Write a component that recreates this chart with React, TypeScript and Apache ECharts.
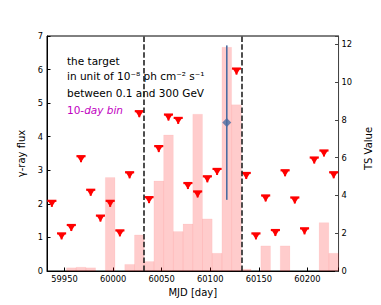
import React, { useEffect, useRef } from "react";
import * as echarts from "echarts";

// 10-day bin centres (MJD)
const binCenters = [
  59937, 59947, 59957, 59967, 59977, 59987, 59997, 60007, 60017, 60027,
  60037, 60047, 60057, 60067, 60077, 60087, 60097, 60107, 60117, 60127,
  60137, 60147, 60157, 60167, 60177, 60187, 60197, 60207, 60217, 60227,
];
const binWidth = 10;
// TS value per bin (right axis)
const tsValues = [
  0, 0, 0.17, 0.2, 0.17, 0, 4.95, 0, 0.35, 1.91,
  0.5, 4.77, 7.21, 2.09, 2.49, 8.31, 2.76, 0.94, 11.85, 8.81,
  0.1, 0, 1.33, 0, 1.33, 0, 0, 0, 2.56, 0.94,
];
// upper limits on flux (null where a detection exists)
const upperLimits = [
  2.09, 1.12, 1.37, 3.42, 2.42, 1.65, 2.09, 1.21, 2.94, 4.76,
  2.2, 3.72, 4.66, 4.56, 2.62, 2.37, 2.82, 3.04, null, 6.03,
  2.92, 1.12, 2.25, 1.22, 3.0, 2.19, 1.27, 3.38, 3.59, 2.94,
];
// detection: [MJD, flux, error]
const detections = [[60117, 4.42, 2.3]];
const periodEdges = [60032, 60132];
const xTicks = [59950, 60000, 60050, 60100, 60150, 60200];
const fluxTicks = [0, 1, 2, 3, 4, 5, 6, 7];
const tsTicks = [0, 2, 4, 6, 8, 10, 12];

const FONT = "DejaVu Sans";

export default function App() {
  const ref = useRef<HTMLDivElement>(null);
  useEffect(() => {
    if (!ref.current) return;
    const chart = echarts.init(ref.current, null, { renderer: "svg" });
    const barData = binCenters.map((c, i) => [c, tsValues[i]]);
    const ulData = binCenters
      .map((c, i) => [c, upperLimits[i]])
      .filter((d) => d[1] !== null);
    const option: any = {
      animation: false,
      textStyle: { fontFamily: FONT },
      grid: {
        left: 47,
        right: 38,
        top: 36,
        bottom: 34,
        show: true,
        borderColor: "#000",
        borderWidth: 1,
        backgroundColor: "transparent",
      },
      xAxis: {
        type: "value",
        min: 59932,
        max: 60232,
        splitNumber: 6,
        name: "MJD [day]",
        nameLocation: "middle",
        nameGap: 15,
        nameTextStyle: { fontSize: 10, color: "#000", fontFamily: FONT },
        axisLine: { show: true, lineStyle: { color: "#000", width: 1 } },
        axisTick: { show: true, inside: true, length: 3.5, lineStyle: { color: "#000" } },
        splitLine: { show: false },
        axisLabel: {
          fontSize: 8.3,
          color: "#000",
          margin: 4,
          fontFamily: FONT,
          formatter: (v: number) => (xTicks.includes(v) ? String(v) : ""),
        },
      },
      yAxis: [
        {
          type: "value",
          position: "left",
          min: fluxTicks[0],
          max: fluxTicks[fluxTicks.length - 1],
          interval: 1,
          name: "γ-ray flux",
          nameLocation: "middle",
          nameGap: 9,
          nameRotate: 90,
          nameTextStyle: { fontSize: 10, color: "#000", fontFamily: FONT },
          axisLine: { show: true, lineStyle: { color: "#000" } },
          axisTick: { show: true, inside: true, length: 3.5, lineStyle: { color: "#000" } },
          splitLine: { show: false },
          axisLabel: { fontSize: 8.3, color: "#000", margin: 4, fontFamily: FONT },
        },
        {
          type: "value",
          position: "right",
          min: 0,
          max: 12.45,
          interval: 2,
          name: "TS Value",
          nameLocation: "middle",
          nameGap: 14,
          nameRotate: 90,
          nameTextStyle: { fontSize: 10, color: "#000", fontFamily: FONT, padding: [0, 0, 0, 10] },
          axisLine: { show: true, lineStyle: { color: "#444" } },
          axisTick: { show: true, inside: true, length: 3.5, lineStyle: { color: "#444" } },
          splitLine: { show: false },
          axisLabel: {
            fontSize: 8.3,
            color: "#000",
            margin: 3,
            fontFamily: FONT,
            formatter: (v: number) => (tsTicks.includes(v) ? String(v) : ""),
          },
        },
      ],
      graphic: [
        {
          type: "text",
          x: 67,
          y: 61,
          style: { text: "the target", fontSize: 10.5, fontFamily: FONT, fill: "#000", verticalAlign: "middle" },
        },
        {
          type: "text",
          x: 67,
          y: 75.5,
          style: { text: "in unit of 10⁻⁸ ph cm⁻² s⁻¹", fontSize: 10.5, fontFamily: FONT, fill: "#000", verticalAlign: "middle" },
        },
        {
          type: "text",
          x: 67,
          y: 93,
          style: { text: "between 0.1 and 300 GeV", fontSize: 10.5, fontFamily: FONT, fill: "#000", verticalAlign: "middle" },
        },
        {
          type: "text",
          x: 67,
          y: 109.5,
          style: {
            text: "{n|10-}{i|day bin}",
            fontSize: 10.5,
            fontFamily: FONT,
            fill: "#bf00bf",
            verticalAlign: "middle",
            rich: {
              n: { fontSize: 10.5, fontFamily: FONT, fill: "#bf00bf" },
              i: { fontSize: 10.5, fontFamily: FONT, fontStyle: "italic", fill: "#bf00bf" },
            },
          },
        },
      ],
      series: [
        {
          type: "custom",
          name: "TS",
          yAxisIndex: 1,
          z: 1,
          data: barData,
          encode: { x: 0, y: 1 },
          renderItem: (params: any, api: any) => {
            const c = api.value(0);
            const v = api.value(1);
            if (!v) return null;
            const p0 = api.coord([c - binWidth / 2, 0]);
            const p1 = api.coord([c + binWidth / 2, v]);
            return {
              type: "rect",
              shape: { x: p0[0], y: p1[1], width: p1[0] - p0[0], height: p0[1] - p1[1] },
              style: { fill: "rgba(255,0,0,0.2)", stroke: "rgba(255,0,0,0.06)", lineWidth: 0.8 },
            };
          },
          markLine: {
            silent: true,
            symbol: "none",
            label: { show: false },
            lineStyle: { color: "#222", width: 1.6, type: [5.5, 2.4] },
            data: periodEdges.map((x) => ({ xAxis: x })),
          },
        },
        {
          type: "custom",
          name: "UL",
          yAxisIndex: 0,
          z: 3,
          data: ulData,
          encode: { x: 0, y: 1 },
          renderItem: (params: any, api: any) => {
            const c = api.value(0);
            const v = api.value(1);
            const pl = api.coord([c - binWidth / 2, v]);
            const pr = api.coord([c + binWidth / 2, v]);
            const pc = api.coord([c, v]);
            return {
              type: "group",
              children: [
                {
                  type: "line",
                  shape: { x1: pl[0] + 0.3, y1: pl[1], x2: pr[0] - 0.3, y2: pr[1] },
                  style: { stroke: "#ff0000", lineWidth: 2.2 },
                },
                {
                  type: "polygon",
                  shape: {
                    points: [
                      [pc[0] - 4.2, pc[1] - 0.5],
                      [pc[0] + 4.2, pc[1] - 0.5],
                      [pc[0], pc[1] + 6.2],
                    ],
                  },
                  style: { fill: "#ff0000" },
                },
                {
                  type: "line",
                  shape: { x1: pc[0], y1: pc[1], x2: pc[0], y2: pc[1] + 6 },
                  style: { stroke: "#ff0000", lineWidth: 2 },
                },
              ],
            };
          },
        },
        {
          type: "custom",
          name: "errbar",
          yAxisIndex: 0,
          z: 4,
          data: detections,
          encode: { x: 0, y: 1 },
          renderItem: (params: any, api: any) => {
            const c = api.value(0);
            const v = api.value(1);
            const e = api.value(2);
            const lo = api.coord([c, v - e]);
            const hi = api.coord([c, v + e]);
            return {
              type: "line",
              shape: { x1: lo[0], y1: lo[1], x2: hi[0], y2: hi[1] },
              style: { stroke: "#4a6ca0", lineWidth: 1.6 },
            };
          },
        },
        {
          type: "scatter",
          name: "detection",
          yAxisIndex: 0,
          z: 5,
          symbol: "diamond",
          symbolSize: [9, 9],
          itemStyle: { color: "#4a6ca0" },
          data: detections.map((d) => [d[0], d[1]]),
        },
      ],
    };
    chart.setOption(option);
    return () => chart.dispose();
  }, []);
  return (
    <div
      ref={ref}
      style={{ position: "fixed", left: 0, top: 0, width: 381, height: 305, background: "#fff" }}
    />
  );
}
